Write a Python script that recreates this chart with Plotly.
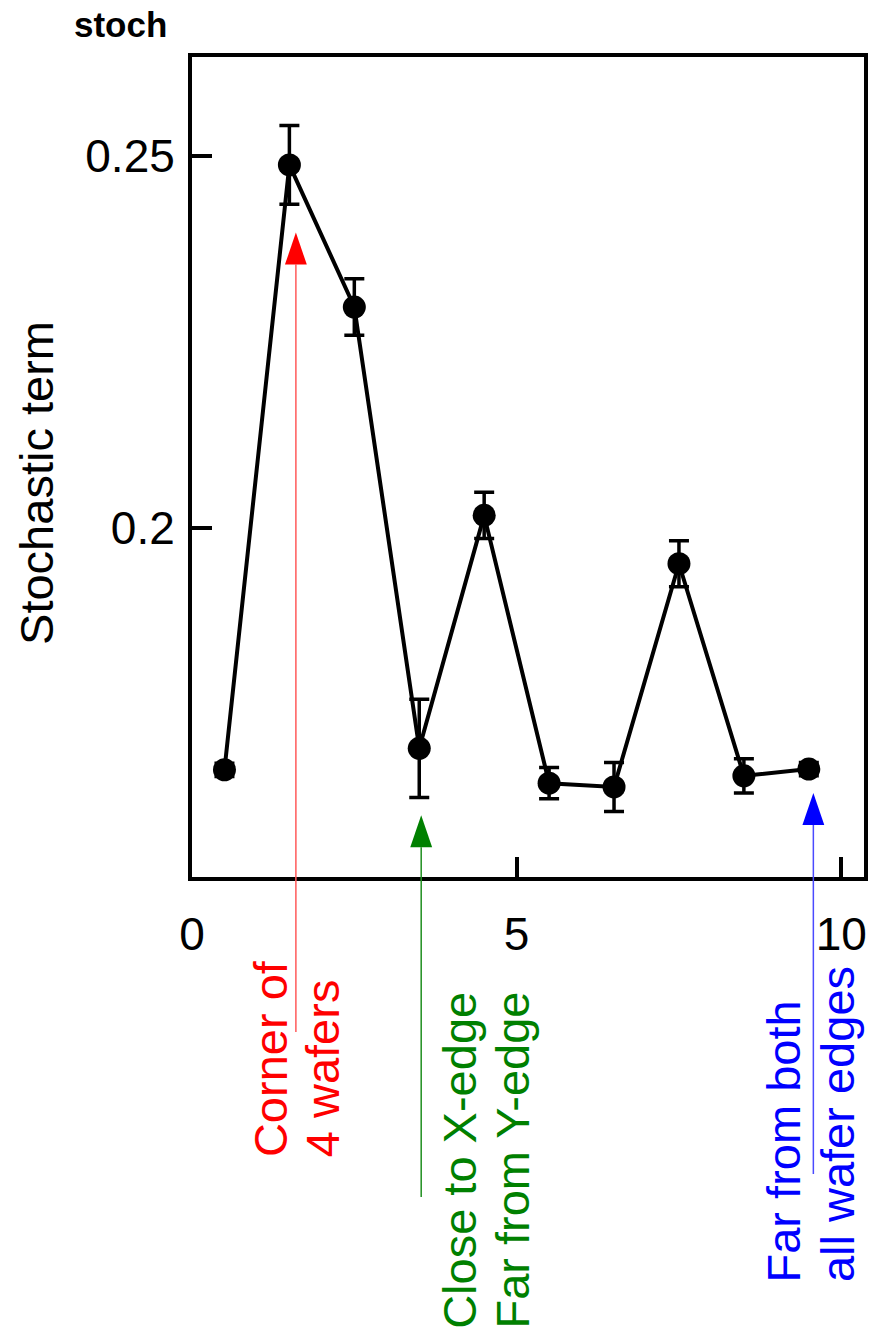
import plotly.graph_objects as go

# Cell index along the scan and the fitted stochastic term with its uncertainty
cell_pos = [0.5, 1.5, 2.5, 3.5, 4.5, 5.5, 6.5, 7.5, 8.5, 9.5]
stoch = [0.1675, 0.2488, 0.2297, 0.1704, 0.2017, 0.1657, 0.1652, 0.1952, 0.1667, 0.1676]
stoch_err = [0.0009, 0.0053, 0.0038, 0.0066, 0.0031, 0.0021, 0.0033, 0.0031, 0.0023, 0.0009]

x_ticks = [0, 5, 10]
x_tick_text = ["0", "5", "10"]
y_ticks = [0.2, 0.25]
y_tick_text = ["0.2", "0.25"]

X_RANGE = [0, 10.35]
Y_RANGE = [0.1531, 0.2633]

# Arrows marking special positions: x location, arrow tip (data y), tail end (paper y), colour
arrow_x = [1.6, 3.53, 9.57]
arrow_tip = [0.2397, 0.1614, 0.1644]
arrow_tail = [-0.189, -0.3902, -0.3622]
arrow_color = ["#ff0000", "#008000", "#0000ff"]
arrow_line_color = ["#ff5a5a", "#1f8f1f", "#4a4aff"]

# Captions under the arrows, one entry per text line
caption_lines = [
    ("Corner of", 0.1169, -0.3427, "#ff0000"),
    ("4 wafers", 0.1938, -0.3427, "#ff0000"),
    ("Close to X-edge", 0.3979, -0.5524, "#008000"),
    ("Far from Y-edge", 0.4763, -0.5524, "#008000"),
    ("Far from both", 0.8802, -0.4951, "#0000ff"),
    ("all wafer edges", 0.9615, -0.4951, "#0000ff"),
]

W, H = 874, 1336
M = dict(l=192, r=6, t=57, b=459)
PW = W - M["l"] - M["r"]
PH = H - M["t"] - M["b"]


def xp(v):
    return (v - X_RANGE[0]) / (X_RANGE[1] - X_RANGE[0])


def yp(v):
    return (v - Y_RANGE[0]) / (Y_RANGE[1] - Y_RANGE[0])


fig = go.Figure()
fig.add_trace(go.Scatter(
    x=cell_pos, y=stoch, mode="lines+markers",
    line=dict(color="black", width=4),
    marker=dict(color="black", size=23),
    error_y=dict(type="data", array=stoch_err, color="black", thickness=3.5, width=10),
    showlegend=False,
))

shapes = []
head_h = 32 / PH
head_hw = 11 / PW
for ax, tip, tail, col, lcol in zip(arrow_x, arrow_tip, arrow_tail, arrow_color, arrow_line_color):
    x0 = xp(ax)
    ty = yp(tip)
    by = ty - head_h
    shapes.append(dict(type="line", xref="paper", yref="paper",
                       x0=x0, x1=x0, y0=by, y1=tail,
                       line=dict(color=lcol, width=1.5), layer="above"))
    shapes.append(dict(type="path", xref="paper", yref="paper",
                       path=f"M {x0 - head_hw},{by} L {x0 + head_hw},{by} L {x0},{ty} Z",
                       fillcolor=col, line=dict(width=0), layer="above"))

annotations = []
for text, x, y, col in caption_lines:
    annotations.append(dict(text=text, x=x, y=y, xref="paper", yref="paper",
                            xanchor="center", yanchor="bottom", textangle=-90,
                            showarrow=False, borderpad=0,
                            font=dict(family="Liberation Sans", size=47, color=col)))

annotations.append(dict(text="Stochastic term", x=(35 - M["l"]) / PW, y=(877 - 483) / PH,
                        xref="paper", yref="paper", xanchor="center", yanchor="middle",
                        textangle=-90, showarrow=False,
                        font=dict(family="Liberation Sans", size=47, color="black")))
annotations.append(dict(text="<b>stoch</b>", x=(120 - M["l"]) / PW, y=(877 - 25) / PH,
                        xref="paper", yref="paper", xanchor="center", yanchor="middle",
                        showarrow=False,
                        font=dict(family="Liberation Sans", size=35, color="black")))

axis_common = dict(showline=True, linecolor="black", linewidth=4, mirror=True,
                   ticks="inside", ticklen=20, tickwidth=4, tickcolor="black",
                   showgrid=False, zeroline=False,
                   tickfont=dict(family="Liberation Sans", size=46, color="black"))

fig.update_layout(
    width=W, height=H, margin=M,
    paper_bgcolor="white", plot_bgcolor="white",
    xaxis=dict(range=X_RANGE, tickvals=x_ticks, ticktext=x_tick_text,
               ticklabelstandoff=14, **axis_common),
    yaxis=dict(range=Y_RANGE, tickvals=y_ticks, ticktext=y_tick_text,
               ticklabelstandoff=4, **axis_common),
    shapes=shapes, annotations=annotations,
)

fig.write_html("out.html")
